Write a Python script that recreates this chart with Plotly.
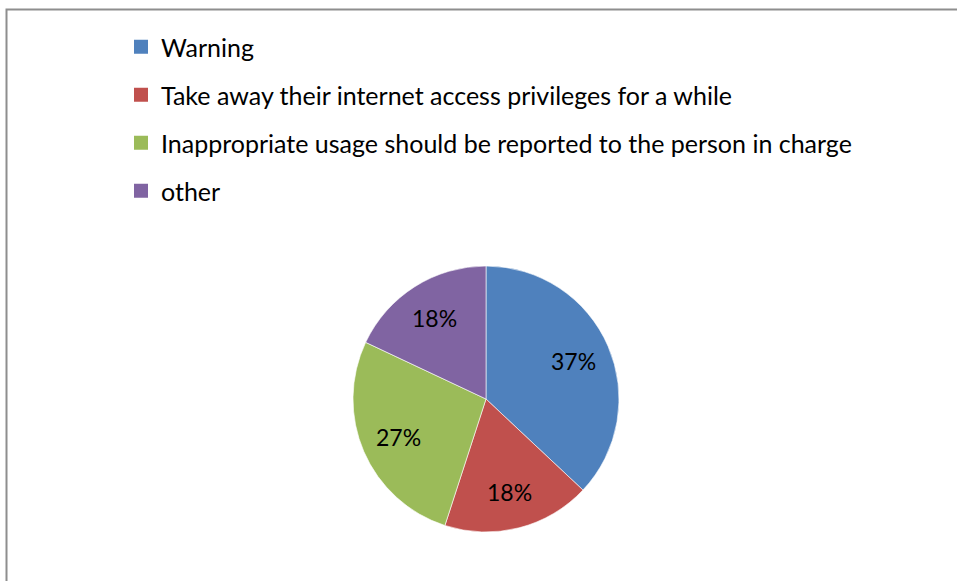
import math
import plotly.graph_objects as go

labels = ["Warning",
          "Take away their internet access privileges for a while",
          "Inappropriate usage should be reported to the person in charge",
          "other"]
values = [37, 18, 27, 18]
colors = ["#4F81BD", "#C0504D", "#9BBB59", "#8064A2"]

W, H = 957, 581
cx, cy, r = 486, 399, 133
label_r = 0.72 * r
FONT = "Lato, Calibri, sans-serif"

fig = go.Figure()
fig.add_trace(go.Pie(
    labels=labels, values=values, sort=False, direction="clockwise", rotation=0,
    marker=dict(colors=colors, line=dict(color="white", width=0.6)),
    textinfo="none",
    domain=dict(x=[(cx - r) / W, (cx + r) / W], y=[(H - cy - r) / H, (H - cy + r) / H]),
    showlegend=False, hoverinfo="label+percent",
))
# legend entries (one group each so the gap between items can be set)
for lab, col in zip(labels, colors):
    fig.add_trace(go.Scatter(
        x=[None], y=[None], mode="markers", name=lab, legendgroup=lab,
        marker=dict(symbol="square", size=14, color=col),
        showlegend=True,
    ))

# percentage labels placed along each slice's bisector (Excel-style)
total = sum(values)
annotations = []
cum = 0
for v in values:
    mid = (cum + v / 2) / total * 2 * math.pi
    cum += v
    px = cx + label_r * math.sin(mid)
    py = cy - label_r * math.cos(mid)
    annotations.append(dict(
        x=px / W, y=(H - py) / H, xref="paper", yref="paper",
        text=f"{round(100 * v / total)}%", showarrow=False,
        xanchor="center", yanchor="middle",
        font=dict(family=FONT, size=23, color="black")))

fig.update_layout(
    width=W, height=H,
    margin=dict(l=0, r=0, t=0, b=0),
    paper_bgcolor="white", plot_bgcolor="white",
    xaxis=dict(visible=False), yaxis=dict(visible=False),
    legend=dict(x=121 / W, y=1 - 24 / H, xanchor="left", yanchor="top",
                font=dict(family=FONT, size=25, color="black"),
                tracegroupgap=12.5, itemwidth=30, bgcolor="rgba(0,0,0,0)"),
    annotations=annotations,
    shapes=[dict(type="rect", xref="paper", yref="paper",
                 x0=6.5 / W, x1=1.2, y0=-0.2, y1=1 - 9.5 / H,
                 line=dict(color="#8E8E8E", width=2), fillcolor="rgba(0,0,0,0)")],
)

fig.write_html("out.html", config={"displayModeBar": False},
               post_script="document.body.style.margin='0';document.body.style.overflow='hidden';")
